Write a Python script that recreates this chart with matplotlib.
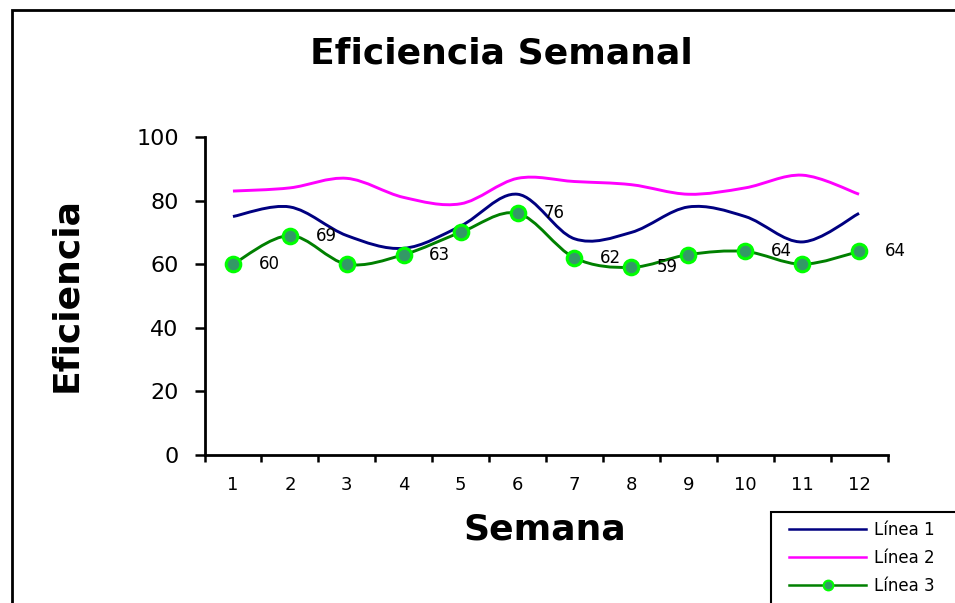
import numpy as np
import matplotlib
matplotlib.use("Agg")
import matplotlib.pyplot as plt
from matplotlib.path import Path
from matplotlib.patches import PathPatch, Rectangle
from matplotlib.lines import Line2D

# weekly efficiency data
semanas = np.arange(1, 13)
linea1 = [75, 78, 69, 65, 72, 82, 68, 70, 78, 75, 67, 76]
linea2 = [83, 84, 87, 81, 79, 87, 86, 85, 82, 84, 88, 82]
linea3 = [60, 69, 60, 63, 70, 76, 62, 59, 63, 64, 60, 64]
# weeks whose value is printed next to the marker
semanas_etiqueta = [1, 2, 4, 6, 7, 8, 10, 12]


def smooth_path(x, y):
    # Catmull-Rom style bezier through the points (like a "smoothed line")
    x = np.asarray(x, float)
    y = np.asarray(y, float)
    pts = np.column_stack([x, y])
    n = len(pts)
    verts = [pts[0]]
    codes = [Path.MOVETO]
    for i in range(n - 1):
        p0 = pts[i - 1] if i > 0 else pts[i]
        p1 = pts[i]
        p2 = pts[i + 1]
        p3 = pts[i + 2] if i + 2 < n else pts[i + 1]
        c1 = p1 + (p2 - p0) / 6.0
        c2 = p2 - (p3 - p1) / 6.0
        verts += [c1, c2, p2]
        codes += [Path.CURVE4] * 3
    return Path(verts, codes)


fig = plt.figure(figsize=(9.55, 6.03), dpi=100)
W, H = 955, 603

# outer chart frame (runs off the right and bottom edges)
fig.patches.append(Rectangle((12 / W, -0.05), 1.1, 1 - 10 / H + 0.05,
                             transform=fig.transFigure, fill=False,
                             edgecolor="black", linewidth=2))

ax = fig.add_axes([204.5 / W, 1 - 455 / H, 683 / W, 318 / H])
ax.set_xlim(0.5, 12.5)
ax.set_ylim(0, 100)

colores = ["#000080", "#FF00FF", "#008000"]
for serie, color in zip([linea1, linea2, linea3], colores):
    ax.add_patch(PathPatch(smooth_path(semanas, serie), fill=False,
                           edgecolor=color, linewidth=2.1, zorder=3))

ax.plot(semanas, linea3, linestyle="none", marker="o", markersize=10.5,
        markerfacecolor="#339966", markeredgecolor="#00FF00",
        markeredgewidth=2.2, zorder=4)

for s in semanas_etiqueta:
    v = linea3[s - 1]
    ax.annotate(str(v), (s, v), xytext=(26, 0), textcoords="offset points",
                ha="center", va="center", fontsize=12, zorder=5)

# axes styling
for side in ["top", "right"]:
    ax.spines[side].set_visible(False)
ax.spines["left"].set_linewidth(2)
ax.spines["bottom"].set_linewidth(2)

ax.set_yticks(range(0, 101, 20))
ax.tick_params(axis="y", direction="out", length=7.5, width=1.8,
               labelsize=16, pad=11)

ax.set_xticks(np.arange(0.5, 13, 1))
ax.set_xticklabels([])
ax.set_xticks(semanas, minor=True)
ax.set_xticklabels([str(s) for s in semanas], minor=True)
ax.tick_params(axis="x", which="major", direction="out", length=5, width=1.8)
ax.tick_params(axis="x", which="minor", length=0, labelsize=13, pad=15)

fig.text(501 / W, 1 - 54 / H, "Eficiencia Semanal", ha="center",
         va="center", fontsize=26, fontweight="bold")
fig.text(66 / W, 1 - 295 / H, "Eficiencia", ha="center", va="center",
         rotation=90, fontsize=26, fontweight="bold")
fig.text(545 / W, 1 - 530 / H, "Semana", ha="center", va="center",
         fontsize=26, fontweight="bold")

# legend box, partly cut off at the figure edges
fig.patches.append(Rectangle((771 / W, -0.05), 0.3, 1 - 512 / H + 0.05,
                             transform=fig.transFigure, fill=False,
                             edgecolor="black", linewidth=1.5))
handles = [
    Line2D([], [], color=colores[0], linewidth=1.8),
    Line2D([], [], color=colores[1], linewidth=1.8),
    Line2D([], [], color=colores[2], linewidth=1.8, marker="o",
           markersize=7, markerfacecolor="#339966",
           markeredgecolor="#00FF00", markeredgewidth=1.5),
]
fig.legend(handles, ["Línea 1", "Línea 2", "Línea 3"],
           loc="upper left", bbox_to_anchor=(786 / W, 1 - 518 / H),
           frameon=False, fontsize=12, handlelength=4.6, handletextpad=0.45,
           labelspacing=0.6, borderpad=0.2, borderaxespad=0)

fig.savefig("out.png", dpi=100)
